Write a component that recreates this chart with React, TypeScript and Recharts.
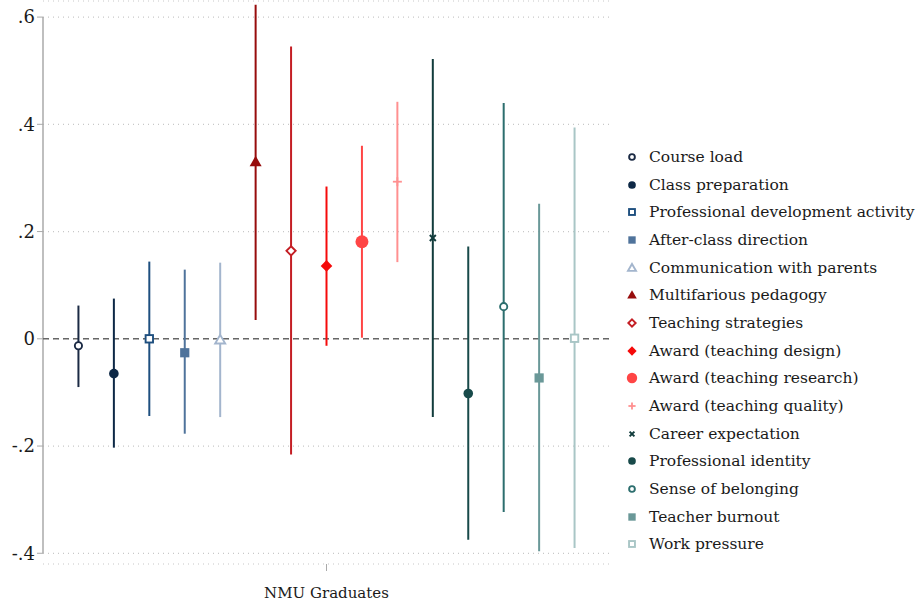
import { ComposedChart, Scatter, ErrorBar, XAxis, YAxis, CartesianGrid, ReferenceLine } from 'recharts';

const categories = [
  'Course load',
  'Class preparation',
  'Professional development activity',
  'After-class direction',
  'Communication with parents',
  'Multifarious pedagogy',
  'Teaching strategies',
  'Award (teaching design)',
  'Award (teaching research)',
  'Award (teaching quality)',
  'Career expectation',
  'Professional identity',
  'Sense of belonging',
  'Teacher burnout',
  'Work pressure',
];

const estimates = [-0.013, -0.065, 0, -0.026, -0.002, 0.33, 0.164, 0.136, 0.181, 0.293, 0.188, -0.102, 0.06, -0.073, 0.001];
const lower = [-0.09, -0.203, -0.144, -0.177, -0.146, 0.035, -0.216, -0.013, 0.002, 0.143, -0.146, -0.375, -0.323, -0.396, -0.39];
const upper = [0.062, 0.075, 0.144, 0.129, 0.142, 0.623, 0.545, 0.284, 0.36, 0.442, 0.522, 0.172, 0.44, 0.252, 0.394];

const colors = [
  '#1b2a44', '#0d2846', '#1e4f7f', '#4f739b', '#a3b5cd',
  '#970c0c', '#c41e24', '#f50a0a', '#ff4545', '#ff9090',
  '#123c3c', '#184a4a', '#2c6e6e', '#6a9898', '#a9c6c6',
];

type Kind = 'oc' | 'fc' | 'os' | 'fs' | 'ot' | 'ft' | 'od' | 'fd' | 'bc' | 'plus' | 'x';
const markers: Kind[] = ['oc', 'fc', 'os', 'fs', 'ot', 'ft', 'od', 'fd', 'bc', 'plus', 'x', 'fc', 'oc', 'fs', 'os'];

const yTicks = [-0.4, -0.2, 0, 0.2, 0.4, 0.6];
const xTicks = [8];
const xLabel = 'NMU Graduates';

const FONT = '"DejaVu Serif", serif';

function Marker({ kind, cx, cy, color, s }: { kind: Kind; cx: number; cy: number; color: string; s: number }) {
  switch (kind) {
    case 'oc':
      return <circle cx={cx} cy={cy} r={3.6 * s} fill="#fff" stroke={color} strokeWidth={1.9} />;
    case 'fc':
      return <circle cx={cx} cy={cy} r={4.8 * s} fill={color} />;
    case 'bc':
      return <circle cx={cx} cy={cy} r={6.5 * s} fill={color} />;
    case 'os':
      return <rect x={cx - 3.7 * s} y={cy - 3.7 * s} width={7.4 * s} height={7.4 * s} fill="#fff" stroke={color} strokeWidth={1.9} />;
    case 'fs':
      return <rect x={cx - 4.6 * s} y={cy - 4.6 * s} width={9.2 * s} height={9.2 * s} fill={color} />;
    case 'ot':
      return <polygon points={`${cx},${cy - 5 * s} ${cx + 5 * s},${cy + 3.6 * s} ${cx - 5 * s},${cy + 3.6 * s}`} fill="#fff" stroke={color} strokeWidth={1.9} />;
    case 'ft':
      return <polygon points={`${cx},${cy - 6 * s} ${cx + 6 * s},${cy + 4.5 * s} ${cx - 6 * s},${cy + 4.5 * s}`} fill={color} />;
    case 'od':
      return <polygon points={`${cx},${cy - 4.6 * s} ${cx + 4.6 * s},${cy} ${cx},${cy + 4.6 * s} ${cx - 4.6 * s},${cy}`} fill="#fff" stroke={color} strokeWidth={1.9} />;
    case 'fd':
      return <polygon points={`${cx},${cy - 5.8 * s} ${cx + 5.8 * s},${cy} ${cx},${cy + 5.8 * s} ${cx - 5.8 * s},${cy}`} fill={color} />;
    case 'plus':
      return (
        <g stroke={color} strokeWidth={1.8}>
          <line x1={cx - 4.5 * s} y1={cy} x2={cx + 4.5 * s} y2={cy} />
          <line x1={cx} y1={cy - 4.5 * s} x2={cx} y2={cy + 4.5 * s} />
        </g>
      );
    case 'x':
      return (
        <g stroke={color} strokeWidth={2}>
          <line x1={cx - 3 * s} y1={cy - 3 * s} x2={cx + 3 * s} y2={cy + 3 * s} />
          <line x1={cx - 3 * s} y1={cy + 3 * s} x2={cx + 3 * s} y2={cy - 3 * s} />
        </g>
      );
  }
  return null;
}

const fmtY = (v: number) => (v === 0 ? '0' : v.toFixed(1).replace('0.', '.'));

export default function App() {
  return (
    <div style={{ position: 'absolute', left: 0, top: 0, width: 919, height: 604, background: '#fff' }}>
      <ComposedChart width={919} height={604} margin={{ top: 1, right: 309, bottom: 0, left: 0 }}>
        <CartesianGrid vertical={false} stroke="#c8c8c8" strokeDasharray="1 4" strokeWidth={1.2} />
        <XAxis
          type="number"
          dataKey="x"
          domain={[0, 16]}
          ticks={xTicks}
          tickFormatter={() => xLabel}
          axisLine={false}
          tickLine={{ stroke: '#aaa' }}
          tickSize={7}
          height={40}
          tick={{ fill: '#1a1a1a', fontSize: 15, fontFamily: FONT }}
          tickMargin={16}
        />
        <YAxis
          type="number"
          dataKey="y"
          domain={[-0.42, 0.63]}
          ticks={yTicks}
          tickFormatter={fmtY}
          axisLine={false}
          tickLine={{ stroke: '#aaa' }}
          tickSize={6}
          width={43}
          tick={{ fill: '#1a1a1a', fontSize: 18, fontFamily: FONT }}
        />
        <ReferenceLine segment={[{ x: 0, y: -0.4 }, { x: 0, y: 0.6 }]} stroke="#aaa" strokeWidth={1.5} />
        <ReferenceLine y={0} stroke="#666" strokeDasharray="6 4" strokeWidth={1.5} />
        {categories.map((name, i) => (
          <Scatter
            key={name}
            name={name}
            data={[{ x: i + 1, y: estimates[i], err: [estimates[i] - lower[i], upper[i] - estimates[i]] }]}
            isAnimationActive={false}
            shape={(p: any) => <Marker kind={markers[i]} cx={p.cx} cy={p.cy} color={colors[i]} s={1} />}
          >
            <ErrorBar dataKey="err" direction="y" width={0} stroke={colors[i]} strokeWidth={2} />
          </Scatter>
        ))}
      </ComposedChart>
      <div style={{ position: 'absolute', left: 622, top: 143, fontFamily: FONT, fontSize: 15.5, color: '#1a1a1a' }}>
        {categories.map((name, i) => (
          <div key={name} style={{ display: 'flex', alignItems: 'center', height: 27.7 }}>
            <svg width={22} height={16} style={{ marginRight: 5 }}>
              <Marker kind={markers[i]} cx={10} cy={8} color={colors[i]} s={0.8} />
            </svg>
            <span style={{ whiteSpace: 'nowrap' }}>{name}</span>
          </div>
        ))}
      </div>
    </div>
  );
}
